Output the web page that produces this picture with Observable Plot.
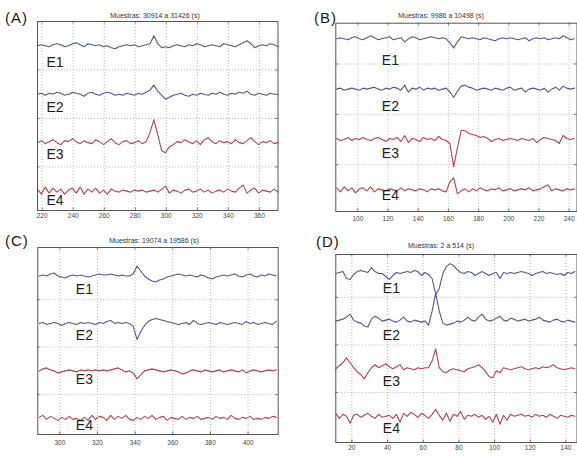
<!DOCTYPE html>
<html><head><meta charset="utf-8">
<script src="https://cdn.jsdelivr.net/npm/d3@7"></script>
<script src="https://cdn.jsdelivr.net/npm/@observablehq/plot@0.6"></script>
<style>
body{margin:0;background:#fff;}
#wrap{position:relative;width:577px;height:456px;overflow:hidden;background:#fff;font-family:Arial,"Liberation Sans",sans-serif;}
.p{position:absolute;}
.ttl{position:absolute;font-size:7px;color:#333;transform:translate(-50%,-50%);white-space:nowrap;}
.let{position:absolute;font-size:15px;color:#1a1a1a;transform:translateY(-50%);letter-spacing:1px;}
</style></head><body><div id="wrap"></div>
<script>
// ---------- data (deflections, arbitrary units) ----------
const channels = ["E1", "E2", "E3", "E4"];
const titles = ["Muestras: 30914 a 31426 (s)", "Muestras: 9986 a 10498 (s)", "Muestras: 19074 a 19586 (s)", "Muestras: 2 a 514 (s)"];
const letters = ["(A)", "(B)", "(C)", "(D)"];

const ticksA = [220, 240, 260, 280, 300, 320, 340, 360];
const ticksB = [100, 120, 140, 160, 180, 200, 220, 240];
const ticksC = [300, 320, 340, 360, 380, 400];
const ticksD = [20, 40, 60, 80, 100, 120, 140];

// Panel A (x from 217, step 2.5)
const aE1 = [0,1,0,-1,1,2,1,-1,0,2, 3,1,-1,2,1,0,1,-1,0,-2, -3,-1,0,1,0,1,-1,0,1,2, 10,2,-2,-1,-2,0,1,0,-1,1, 0,2,1,-1,0,1,0,-1,2,1, 0,-1,1,3,5,2,-2,0,1,0, 2,1,-1];
const aE2 = [0,1,-1,1,0,2,1,-1,0,2, 1,0,-2,1,2,0,-1,1,2,1, -1,0,-1,1,0,-1,1,0,2,4, 9,3,-1,-5,-3,-1,0,1,-1,-2, 0,-1,1,0,-1,1,0,2,0,-1, 1,0,2,1,3,0,-1,1,0,-1, 1,0,0];
const aE3 = [0,2,-1,1,3,0,-2,2,1,4, 1,-1,2,0,-1,3,1,-2,1,4, 0,-2,1,2,-1,0,2,-1,1,10, 23,8,-8,-10,-4,-2,1,0,3,1, -1,2,-2,3,5,1,-1,2,0,1, -1,3,0,-1,2,5,1,-2,1,0, 2,-1,0];
const aE4 = [2,-3,4,-2,3,-1,2,-3,1,3, -2,4,-3,2,-1,3,-2,1,-3,2, 0,-1,1,0,-1,1,0,1,-1,0, 1,-1,2,5,-2,1,0,-2,1,2, -1,0,2,-1,1,-2,0,1,-1,2, 0,-1,3,6,-2,1,3,-2,1,0, -1,2,-1];

// Panel B (x from 86, step 2.5)
const bE1 = [0,1,0,-1,1,2,0,-1,1,3, 1,-1,0,1,2,-1,0,1,-3,0, 2,1,-1,0,1,2,1,0,1,0, -4,-9,-3,2,1,0,1,0,-1,1, 0,-1,-2,0,1,0,1,0,-1,0, 1,-2,0,1,0,1,-1,0,1,0, 3,1,-1,0];
const bE2 = [0,1,-1,0,1,0,-1,1,0,1, 2,0,-1,1,0,2,1,-1,4,-3, 1,0,2,-1,1,0,1,-1,0,1, -3,-8,-2,3,4,2,1,-1,0,1, 0,-1,1,0,-1,1,2,-1,0,1, -3,0,1,0,-1,1,-3,0,2,-1, 3,1,0,1];
const bE3 = [1,-1,0,2,-1,1,0,2,0,-1, 1,2,0,-2,1,0,2,-2,4,-3, 1,0,-2,2,0,1,-1,3,0,-1, -4,-27,-8,9,9,6,5,4,2,3, 1,-2,0,1,-1,0,1,0,-1,1, 0,-1,1,-3,0,2,1,0,-1,-4, 4,1,0,1];
const bE4 = [2,-2,3,-1,2,-3,1,2,-1,3, -2,1,0,-1,1,0,-1,2,-1,1, 0,-1,1,0,-2,1,0,1,-1,-2, 8,12,-4,-1,1,-2,1,-1,2,0, -1,1,0,2,-1,0,1,-1,0,1, 0,2,-1,0,1,3,5,-1,1,0, -1,1,0,1];

// Panel C (x from 289, step 2)
const cE1 = [0,1,0,2,3,0,-1,-2,0,1, 0,1,0,-1,0,1,2,1,1,2, 1,0,1,0,0,2,10,5,0,-3, -5,-6,-4,-3,-1,0,1,2,1,0, 1,0,-1,1,0,-2,-3,-1,0,1, 0,1,2,0,-1,1,2,0,-1,1, 0,2,1,0];
const cE2 = [0,1,-1,0,1,0,-2,0,1,0, -1,1,0,1,0,-1,1,0,2,3, 0,1,0,1,0,-3,-16,-8,-2,2, 4,5,4,3,2,1,0,-1,0,1, -1,3,0,-1,0,1,0,-1,1,0, -1,0,1,0,-1,2,0,1,-1,0, 1,0,-1,2];
const cE3 = [0,2,3,1,0,-2,-1,0,1,0, -1,1,0,1,0,1,0,1,0,1, 2,3,1,-1,0,-2,-8,-4,0,1, 2,1,0,-1,0,1,0,-1,-3,-2, 0,1,0,-1,1,0,-1,0,1,-1, 0,1,0,-1,1,-2,0,1,0,-1, 0,1,0,1];
const cE4 = [1,3,-1,2,0,-2,1,-1,2,-1, 0,-2,1,-2,3,-1,2,1,-2,3, -1,2,0,3,-1,-2,1,-1,2,0, 3,-1,1,2,-2,1,0,-1,2,-1, 1,0,2,-1,0,1,-1,2,0,1, -1,3,0,-1,1,0,2,-1,0,-1, 1,0,2,1];

// Panel D (x from 11, step 2)
const dE1 = [0,1,2,-5,-6,-1,2,3,2,1, 6,2,0,0,-3,-6,-2,1,0,1, 2,1,3,2,-2,1,-1,-5,-21,-15, 0,7,10,8,4,1,0,2,1,-2, 0,2,0,-2,0,1,-5,1,0,1, 0,1,2,1,0,-2,0,1,2,0, 1,0,-1,0,-2,1,0,2];
const dE2 = [0,1,2,4,7,1,-1,-2,-5,-6, 2,5,3,0,1,2,0,-1,1,4, 0,-1,1,0,-1,0,-4,10,28,10, -2,-4,-3,-2,0,-1,1,4,1,0, 4,7,2,0,1,3,5,1,0,3, 2,0,1,2,0,1,2,4,1,0, -1,1,2,0,-1,1,0,-1];
const dE3 = [0,3,6,11,6,1,-3,-6,-10,-4, 1,4,1,3,5,2,0,2,4,-1, 1,0,-1,1,0,1,1,8,20,1, -3,-4,-1,0,-1,-2,-3,0,1,2, 4,1,-3,-8,-9,-2,-4,1,0,-1, 0,1,2,0,-1,0,1,0,2,1, 2,4,1,0,-1,0,1,0];
const dE4 = [3,-2,2,0,-7,1,2,-1,1,3, 0,-2,2,-1,0,1,-2,2,-6,3, 0,4,2,-1,3,1,-2,2,7,1, -4,3,-5,2,0,5,-3,1,0,2, -1,1,-3,0,-6,2,-8,1,-4,2, 0,1,2,0,1,-1,2,0,1,-1, 2,0,-2,1,0,-1,1,0];

// ---------- layout ----------
const offsets = [3.5, 2.5, 1.5, 0.5];
const lineColors = ["#55559c", "#55559c", "#b4424f", "#b4424f"];

const cfgs = [
  {series:[aE1,aE2,aE3,aE4], start:217, step:2.5, gain:48.3, xDomain:[217,372], yDomain:[0.1,4.0], ticks:ticksA,
   left:0, top:0, w:288, mL:37, mR:10.5, mT:21, mB:18, pad:3, labDx:9, labDy:[0.35,0.28,0.24,0.19],
   title:[155,14.5], letter:[5,17]},
  {series:[bE1,bE2,bE3,bE4], start:86, step:2.5, gain:50, xDomain:[85.4,245.2], yDomain:[0.07,3.81], ticks:ticksB,
   left:288, top:0, w:289, mL:47.3, mR:0.5, mT:22.7, mB:17, pad:5, labDx:46, labDy:[0.43,0.35,0.28,0.11],
   title:[441,15], letter:[314,17]},
  {series:[cE1,cE2,cE3,cE4], start:289, step:2, gain:47.5, xDomain:[288.3,416], yDomain:[0.16,4.1], ticks:ticksC,
   left:0, top:228, w:288, mL:37.3, mR:10.3, mT:19, mB:22, pad:6, labDx:38, labDy:[0.28,0.26,0.19,0.15],
   title:[154,240], letter:[5,240]},
  {series:[dE1,dE2,dE3,dE4], start:11, step:2, gain:48, xDomain:[11,146.2], yDomain:[-0.05,3.9], ticks:ticksD,
   left:288, top:228, w:289, mL:47.3, mR:0.5, mT:26, mB:14, pad:3, labDx:47, labDy:[0.31,0.30,0.26,0.26],
   title:[441,245], letter:[316,241]}
];

const wrap = document.getElementById("wrap");
cfgs.forEach((c, p) => {
  const data = [];
  c.series.forEach((vals, k) => {
    vals.forEach((v, i) => data.push({ch: channels[k], x: c.start + c.step * i, y: offsets[k] + v / c.gain}));
  });
  const H = 228;
  const pxPerY = (H - c.mT - c.mB) / (c.yDomain[1] - c.yDomain[0]);
  const pxPerX = (c.w - c.mL - c.mR) / (c.xDomain[1] - c.xDomain[0]);
  const tl = 2.5;
  const chart = Plot.plot({
    width: c.w, height: H,
    marginLeft: c.mL, marginRight: c.mR, marginTop: c.mT, marginBottom: c.mB,
    style: {fontSize: "6.5px", color: "#444", fontFamily: "Arial, 'Liberation Sans', sans-serif", background: "transparent"},
    x: {domain: c.xDomain, ticks: c.ticks, tickSize: 0, tickPadding: c.pad, label: null, tickFormat: d => String(d)},
    y: {domain: c.yDomain, axis: null},
    color: {domain: channels, range: lineColors},
    marks: [
      Plot.ruleX(c.ticks, {stroke: "#9a9a9a", strokeDasharray: "1,2", strokeWidth: 0.7}),
      Plot.ruleY([1, 2, 3], {stroke: "#9a9a9a", strokeDasharray: "1,2", strokeWidth: 0.7}),
      Plot.ruleX(c.ticks, {y1: c.yDomain[0], y2: c.yDomain[0] + tl / pxPerY, stroke: "#555", strokeWidth: 0.8}),
      Plot.ruleX(c.ticks, {y1: c.yDomain[1], y2: c.yDomain[1] - tl / pxPerY, stroke: "#555", strokeWidth: 0.8}),
      Plot.ruleY([1, 2, 3], {x1: c.xDomain[0], x2: c.xDomain[0] + tl / pxPerX, stroke: "#555", strokeWidth: 0.8}),
      Plot.ruleY([1, 2, 3], {x1: c.xDomain[1], x2: c.xDomain[1] - tl / pxPerX, stroke: "#555", strokeWidth: 0.8}),
      Plot.line(data, {x: "x", y: "y", z: "ch", stroke: "ch", strokeWidth: 1.1}),
      Plot.text(channels, {frameAnchor: "left", dx: c.labDx, y: (d, i) => offsets[i] - c.labDy[i], text: d => d,
        textAnchor: "start", fontSize: 14, fill: "#1e1e1e"}),
      Plot.frame({stroke: "#555", strokeWidth: 1})
    ]
  });
  chart.classList.add("p");
  chart.style.left = c.left + "px";
  chart.style.top = c.top + "px";
  wrap.appendChild(chart);

  const t = document.createElement("div");
  t.className = "ttl";
  t.textContent = titles[p];
  t.style.left = c.title[0] + "px";
  t.style.top = c.title[1] + "px";
  wrap.appendChild(t);

  const l = document.createElement("div");
  l.className = "let";
  l.textContent = letters[p];
  l.style.left = c.letter[0] + "px";
  l.style.top = c.letter[1] + "px";
  wrap.appendChild(l);
});
</script>
</body></html>
